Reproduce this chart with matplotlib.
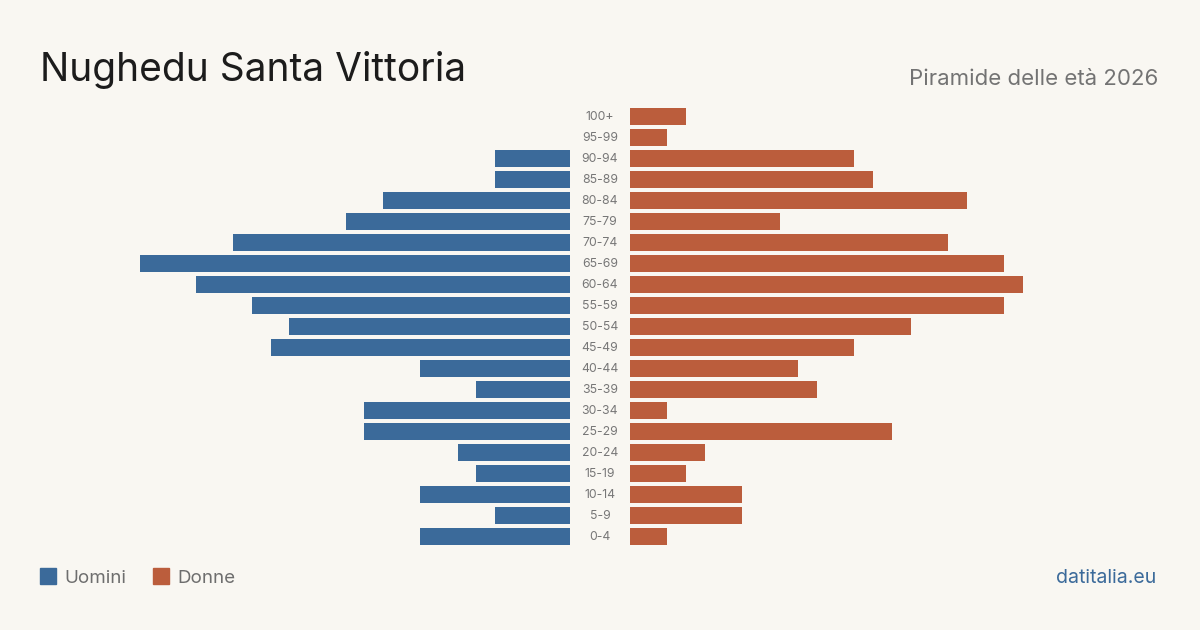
import matplotlib
matplotlib.use("Agg")
import matplotlib.pyplot as plt
from matplotlib.patches import Rectangle

age_groups = ["100+", "95-99", "90-94", "85-89", "80-84", "75-79", "70-74", "65-69",
              "60-64", "55-59", "50-54", "45-49", "40-44", "35-39", "30-34", "25-29",
              "20-24", "15-19", "10-14", "5-9", "0-4"]
men = [0, 0, 4, 4, 10, 12, 18, 23, 20, 17, 15, 16, 8, 5, 11, 11, 6, 5, 8, 4, 8]
women = [3, 2, 12, 13, 18, 8, 17, 20, 21, 20, 15, 12, 9, 10, 2, 14, 4, 3, 6, 6, 2]

title = "Nughedu Santa Vittoria"
subtitle = "Piramide delle età 2026"
legend_labels = ["Uomini", "Donne"]
source = "datitalia.eu"

BG = "#f9f7f2"
BLUE = "#3b6a9a"
ORANGE = "#bb5d3c"
FONT = ["Inter", "DejaVu Sans"]

W, H = 1200, 630
fig = plt.figure(figsize=(12, 6.3), dpi=100, facecolor=BG)

def fx(px):
    return px / W

def fy(py):
    return 1 - py / H

n = len(age_groups)
c0 = 116.7
step = 21
top_px = c0 - step / 2
bot_px = c0 + step * (n - 1) + step / 2
scale = 18.7
left_w = 570 - 40
right_w = 1160 - 630
xmax = left_w / scale

axL = fig.add_axes([fx(40), fy(bot_px), fx(left_w), (bot_px - top_px) / H])
axR = fig.add_axes([fx(630), fy(bot_px), fx(right_w), (bot_px - top_px) / H])
ypos = list(range(n))[::-1]
axL.barh(ypos, men, height=0.8, color=BLUE)
axR.barh(ypos, women, height=0.8, color=ORANGE)
axL.set_xlim(xmax, 0)
axR.set_xlim(0, xmax)
for ax in (axL, axR):
    ax.set_ylim(-0.5, n - 0.5)
    ax.axis("off")
    ax.set_facecolor("none")

for i, lab in enumerate(age_groups):
    y = c0 + step * i + 0.5
    fig.text(fx(600), fy(y), lab, ha="center", va="center", fontsize=8.8,
             color="#777777", family=FONT)

fig.text(fx(40), fy(81), title, ha="left", va="baseline", fontsize=28,
         color="#1c1c1c", family=FONT)
fig.text(fx(1158), fy(85), subtitle, ha="right", va="baseline", fontsize=16,
         color="#737373", family=FONT)

for x0, col, lab in [(40, BLUE, legend_labels[0]), (153, ORANGE, legend_labels[1])]:
    fig.patches.append(Rectangle((fx(x0), fy(584)), fx(16), 16 / H, color=col,
                                 transform=fig.transFigure, figure=fig))
    fig.text(fx(x0 + 24), fy(583), lab, ha="left", va="baseline", fontsize=13.5,
             color="#6e6e6e", family=FONT)

fig.text(fx(1156), fy(583), source, ha="right", va="baseline", fontsize=14,
         color=BLUE, family=FONT)

fig.savefig("out.png", dpi=100, facecolor=BG)
